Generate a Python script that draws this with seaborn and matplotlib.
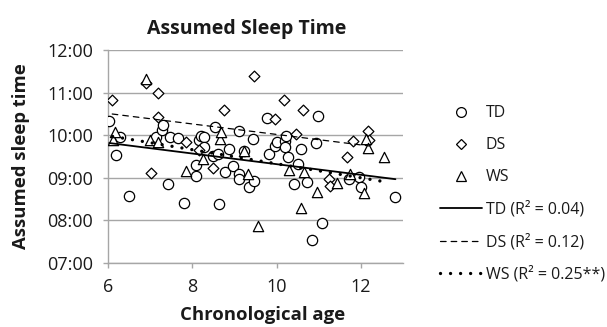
import numpy as np
import pandas as pd
import matplotlib
matplotlib.use("Agg")
import matplotlib.pyplot as plt
from matplotlib.ticker import FuncFormatter, MultipleLocator
from matplotlib.lines import Line2D
import seaborn as sns

# data (age in years, sleep time in hours)
td_age = [6.03, 6.20, 6.28, 6.50, 7.15, 7.27, 7.31, 7.42, 7.46, 7.65, 7.80, 8.09, 8.09,
          8.15, 8.20, 8.28, 8.28, 8.50, 8.54, 8.62, 8.64, 8.78, 8.88, 8.96, 9.10, 9.10,
          9.10, 9.22, 9.35, 9.43, 9.47, 9.77, 9.82, 9.97, 10.00, 10.20, 10.21, 10.23,
          10.26, 10.41, 10.52, 10.57, 10.73, 10.84, 10.94, 10.99, 11.07, 11.71, 11.96,
          12.00, 12.82]
td_sleep = [10.33, 9.53, 9.95, 8.58, 9.95, 10.12, 10.23, 8.85, 9.95, 9.93, 8.41, 9.31, 9.04,
            9.88, 9.97, 9.95, 9.73, 9.52, 10.20, 9.57, 8.39, 9.13, 9.67, 9.28, 10.10, 9.08,
            8.98, 9.64, 8.78, 9.90, 8.93, 10.40, 9.57, 9.74, 9.84, 9.87, 9.72, 9.98,
            9.50, 8.86, 9.32, 9.67, 8.90, 7.54, 9.82, 10.44, 7.95, 8.98, 9.03,
            8.78, 8.55]

ds_age = [6.10, 6.91, 7.03, 7.19, 7.19, 7.84, 8.15, 8.48, 8.75, 9.47, 9.96, 10.17, 10.45,
          10.62, 11.24, 11.26, 11.68, 11.81, 12.18, 12.20]
ds_sleep = [10.83, 11.23, 9.11, 10.98, 10.42, 9.84, 9.65, 9.24, 10.58, 11.38, 10.39, 10.83,
            10.02, 10.60, 8.98, 8.80, 9.50, 9.86, 10.09, 9.88]

ws_age = [6.11, 6.16, 6.91, 6.99, 7.18, 7.85, 8.26, 8.66, 8.67, 9.22, 9.33, 9.57, 10.30,
          10.57, 10.65, 10.96, 11.44, 11.74, 12.08, 12.13, 12.17, 12.54]
ws_sleep = [9.89, 10.08, 11.33, 9.89, 9.84, 9.17, 9.43, 9.92, 10.07, 9.64, 9.09, 7.87, 9.18,
            8.29, 9.13, 8.66, 8.88, 9.10, 8.64, 9.90, 9.71, 9.50]

groups = ["TD", "DS", "WS"]
r2_labels = ["TD (R\u00b2 = 0.04)", "DS (R\u00b2 = 0.12)", "WS (R\u00b2 = 0.25**)"]
# linear trend: value at age 6 and slope per year
trend_at6 = [9.82, 10.51, 9.99]
trend_slope = [-0.125, -0.123, -0.165]

sns.set_theme(style="white")
plt.rcParams["font.family"] = ["Open Sans", "DejaVu Sans"]

fig = plt.figure(figsize=(6.07, 3.27), dpi=100)
ax = fig.add_axes([108 / 607, 1 - 263 / 327, 295 / 607, 213 / 327])

ages = [td_age, ds_age, ws_age]
sleeps = [td_sleep, ds_sleep, ws_sleep]
markers = ["o", "D", "^"]
msizes = [55, 30, 55]
line_styles = ["-", (0, (4.5, 4)), (0, (0.01, 3.0))]
line_widths = [1.3, 0.9, 2.4]

for g, a, s, m, ms in zip(groups, ages, sleeps, markers, msizes):
    df = pd.DataFrame({"age": a, "sleep": s})
    sns.scatterplot(data=df, x="age", y="sleep", marker=m, s=ms, facecolor="white",
                    edgecolor="black", linewidth=0.9, ax=ax, zorder=3, legend=False)

for a, b0, b1, ls, lw in zip(ages, trend_at6, trend_slope, line_styles, line_widths):
    xs = np.array([min(a), max(a)])
    tr = pd.DataFrame({"age": xs, "sleep": b0 + b1 * (xs - 6)})
    sns.lineplot(data=tr, x="age", y="sleep", color="black", linewidth=lw, ax=ax,
                 zorder=4, linestyle=ls, dash_capstyle="round")

ax.set_xlim(6, 13)
ax.set_ylim(7, 12)
ax.xaxis.set_major_locator(MultipleLocator(2))
ax.yaxis.set_major_locator(MultipleLocator(1))
ax.yaxis.set_major_formatter(FuncFormatter(lambda v, p: "%02d:00" % int(round(v))))
ax.xaxis.set_major_formatter(FuncFormatter(lambda v, p: "%d" % v))
ax.yaxis.grid(True, color="#a6a6a6", linewidth=1.0)
ax.set_axisbelow(True)
for sp in ["top", "right"]:
    ax.spines[sp].set_visible(False)
for sp in ["left", "bottom"]:
    ax.spines[sp].set_color("#a6a6a6")
    ax.spines[sp].set_linewidth(1.0)
ax.tick_params(axis="both", which="major", length=3.6, width=1.0, color="#a6a6a6",
               labelsize=13, labelcolor="#1a1a1a", pad=7, direction="out",
               left=True, bottom=True)

ax.set_title("Assumed Sleep Time", fontsize=14, fontweight="bold", color="#1a1a1a",
             x=0.471, y=1.1, va="center", pad=0)
ax.set_xlabel("Chronological age", fontsize=13.3, fontweight="bold", color="#1a1a1a", va="center")
ax.set_ylabel("Assumed sleep time", fontsize=13.3, fontweight="bold", color="#1a1a1a", va="center")
ax.xaxis.set_label_coords(0.525, -0.244)
ax.yaxis.set_label_coords(-0.295, 0.5)

handles = []
for m, ms in zip(markers, msizes):
    handles.append(Line2D([], [], linestyle="none", marker=m, markersize=np.sqrt(ms) * 0.95,
                          markerfacecolor="white", markeredgecolor="black", markeredgewidth=0.9))
for ls, lw in zip(line_styles, line_widths):
    handles.append(Line2D([], [], color="black", linestyle=ls, linewidth=lw,
                          dash_capstyle="round"))
labels = groups + r2_labels
ax.legend(handles, labels, loc="center left", bbox_to_anchor=(440 / 607, 1 - 194 / 327),
          bbox_transform=fig.transFigure, frameon=False, fontsize=11.5, borderpad=0,
          borderaxespad=0, handlelength=2.6, handletextpad=0.25, labelspacing=1.0,
          labelcolor="#1a1a1a")

fig.savefig("out.png", dpi=100)
